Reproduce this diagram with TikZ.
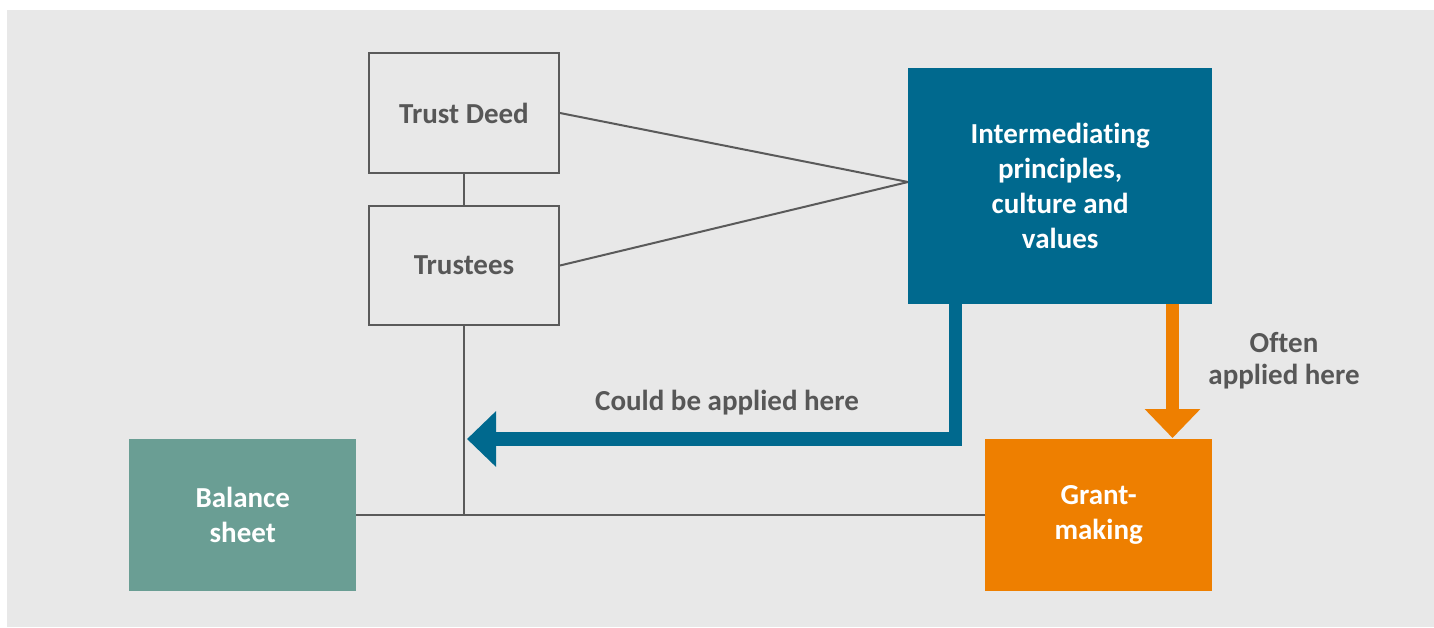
\documentclass[tikz,border=0pt]{standalone}
\usepackage{fontspec}
\setmainfont{Carlito}[Ligatures=NoCommon]
\usetikzlibrary{arrows.meta}
\definecolor{bgc}{HTML}{E8E8E8}
\definecolor{linec}{HTML}{5A5A5A}
\definecolor{txtc}{HTML}{575757}
\definecolor{bluec}{HTML}{00698E}
\definecolor{orangec}{HTML}{EE7F00}
\definecolor{tealc}{HTML}{6A9E94}
\tikzset{
  outlinebox/.style={draw=linec, line width=2pt, fill=none, text=txtc, font=\fontsize{29}{35}\selectfont\bfseries, inner sep=0pt, anchor=north west},
  filledbox/.style={draw=none, text=white, font=\fontsize{29}{35}\selectfont\bfseries, align=center, inner sep=0pt, anchor=north west},
  conn/.style={draw=linec, line width=2pt},
  graylabel/.style={text=txtc, font=\fontsize{29}{32}\selectfont\bfseries, align=center, inner sep=0pt},
  bigarrow/.style={line width=13.5pt}
}
\begin{document}
\begin{tikzpicture}[x=1pt,y=-1pt]
\useasboundingbox (0,0) rectangle (1434,627);
\fill[white] (0,0) rectangle (1434,627);
\fill[bgc] (7,10) rectangle (1434,627);
% boxes
\node[outlinebox, minimum width=190pt, minimum height=120pt] (deed) at (368,52) {Trust Deed};
\node[outlinebox, minimum width=190pt, minimum height=119pt] (trustees) at (368,205) {Trustees};
\node[filledbox, fill=bluec, minimum width=304pt, minimum height=236pt] (inter) at (908,68) {Intermediating\\principles,\\culture and\\values};
\node[filledbox, fill=tealc, minimum width=227pt, minimum height=152pt] (balance) at (129,439) {Balance\\sheet};
\node[filledbox, fill=orangec, minimum width=227pt, minimum height=152pt] (grant) at (985,439) {Grant-\\making};
% connectors
\coordinate (junction) at (trustees.south |- balance.east);
\coordinate (meet) at (inter.west |- 0,182);
\draw[conn] (deed.south) -- (trustees.north);
\draw[conn] (deed.east) -- (meet);
\draw[conn] (trustees.east) -- (meet);
\draw[conn] (trustees.south) -- (junction);
\draw[conn] (balance.east) -- (grant.west);
% blue arrow
\coordinate (bstart) at (955.5,304);
\coordinate (bcorner) at (955.5,439);
\coordinate (btip) at (467,439);
\draw[bigarrow, draw=bluec, -{Triangle[length=29pt,width=54pt]}] (bstart) -- (bcorner) -- (btip);
% orange arrow
\coordinate (ostart) at (1172.5,304);
\coordinate (otip) at (1172.5,438);
\draw[bigarrow, draw=orangec, line cap=butt, -{Triangle[length=29pt,width=54pt]}] (ostart) -- (otip);
% labels
\node[graylabel] (could) at (727,403) {Could be applied here};
\node[graylabel] (often) at (1284,361) {Often\\applied here};
\end{tikzpicture}
\end{document}
